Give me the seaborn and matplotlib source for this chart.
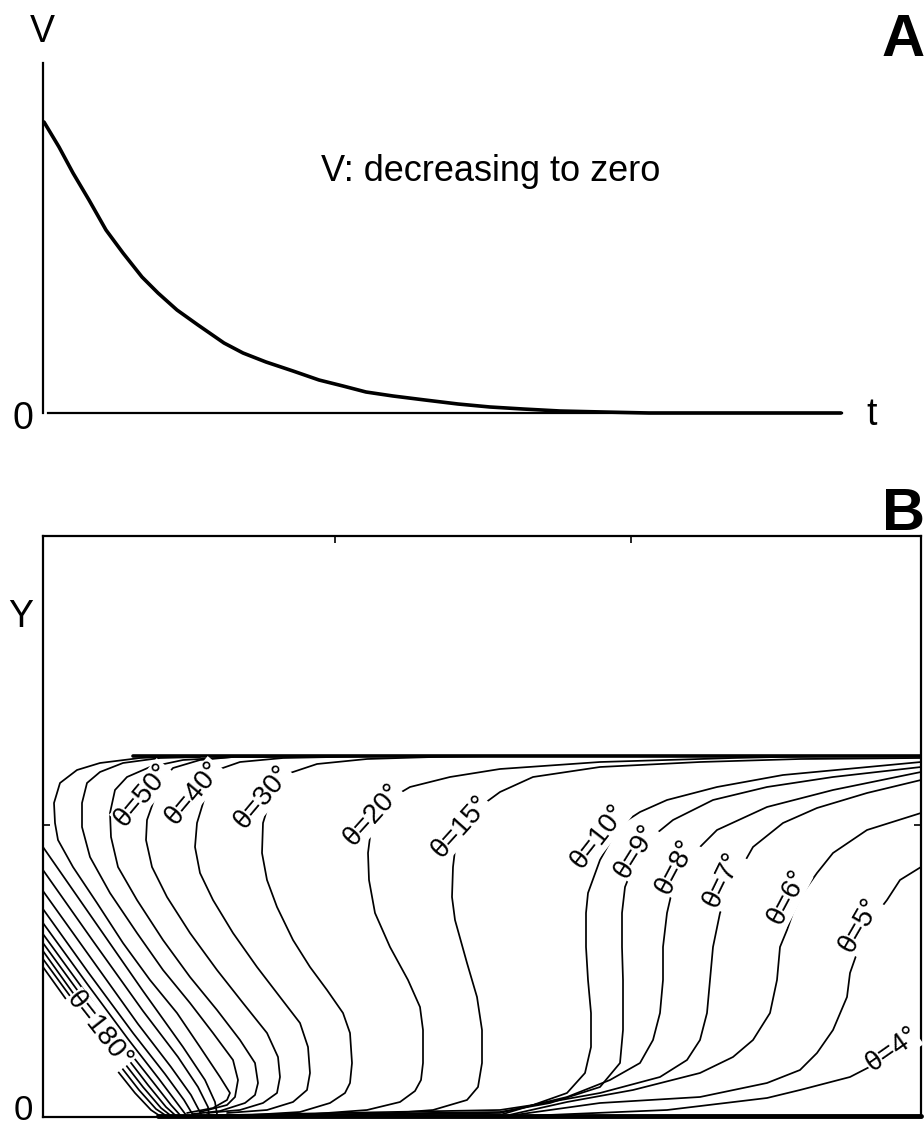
import matplotlib
matplotlib.use("Agg")
import matplotlib.pyplot as plt
import pandas as pd
import seaborn as sns

# ---- panel A: V against t ----
t_vals = [1, 16, 30, 46, 63, 80, 99, 115, 134, 155, 181, 200, 223, 250, 276, 300, 323,
          350, 382, 415, 447, 480, 517, 560, 606, 798]
v_vals = [291, 266, 240, 213, 183, 160, 136, 120, 103, 88, 70, 60, 51, 42, 33, 27, 21,
          17, 13, 9, 6, 4, 2, 1, 0, 0]

# ---- panel B: theta contour lines, (x, Y) points ----
th4 = [(457, 0), (624, 7), (724, 19), (757, 27), (807, 40), (840, 57), (864, 70), (878, 78)]
th5 = [(457, 0), (557, 14), (657, 20), (724, 34), (757, 47), (774, 64), (790, 87), (804, 120),
       (807, 144), (814, 164), (824, 184), (834, 204), (844, 217), (857, 237), (878, 250)]
th6 = [(457, 0), (524, 15), (590, 27), (657, 44), (690, 60), (710, 77), (727, 104), (734, 137),
       (737, 170), (744, 187), (750, 204), (760, 224), (774, 244), (790, 264), (824, 287), (878, 304)]
th7 = [(190, 1), (457, 2), (490, 12), (557, 24), (617, 40), (644, 57), (657, 77), (664, 104),
       (667, 137), (670, 170), (677, 204), (687, 227), (697, 247), (710, 270), (740, 294),
       (774, 309), (824, 324), (878, 337)]
th8 = [(170, 1), (457, 4), (524, 20), (567, 37), (597, 54), (610, 77), (617, 104), (620, 137),
       (620, 170), (624, 204), (630, 230), (644, 250), (654, 267), (674, 287), (724, 310),
       (790, 327), (878, 345)]
th9 = [(150, 1), (457, 5), (507, 14), (557, 30), (577, 54), (580, 87), (580, 137), (579, 170),
       (579, 204), (582, 230), (590, 250), (604, 270), (614, 284), (630, 297), (670, 317),
       (724, 330), (790, 340), (878, 350)]
th10 = [(130, 1), (457, 7), (490, 12), (524, 24), (542, 44), (548, 70), (548, 104), (545, 137),
        (543, 170), (543, 204), (545, 224), (557, 257), (570, 280), (580, 294), (597, 305),
        (624, 317), (674, 330), (740, 342), (878, 355)]
th15 = [(324, 2), (390, 7), (424, 17), (435, 30), (439, 54), (439, 87), (434, 120), (424, 154),
        (412, 197), (409, 220), (410, 250), (412, 267), (417, 284), (430, 300), (442, 314),
        (457, 325), (490, 340), (557, 350), (657, 355), (757, 358), (878, 359)]
th20 = [(257, 2), (324, 7), (357, 15), (372, 26), (378, 37), (380, 54), (380, 87), (377, 110),
        (365, 137), (347, 170), (332, 204), (326, 237), (325, 264), (327, 280), (330, 300),
        (350, 320), (367, 330), (407, 340), (457, 348), (557, 355), (690, 359), (780, 361)]
th30 = [(207, 2), (257, 5), (287, 14), (302, 24), (307, 34), (309, 54), (307, 84), (300, 104),
        (284, 127), (267, 150), (250, 177), (234, 210), (224, 237), (219, 264), (220, 294),
        (230, 327), (247, 344), (274, 353), (324, 358), (390, 360), (450, 361)]
th40 = [(184, 4), (224, 7), (250, 15), (264, 27), (267, 44), (265, 70), (257, 94), (237, 120),
        (214, 150), (190, 184), (170, 217), (157, 244), (152, 270), (154, 294), (164, 327),
        (174, 347), (197, 355), (240, 359), (290, 360), (340, 361)]
th50 = [(164, 4), (197, 7), (220, 14), (234, 24), (237, 40), (235, 60), (224, 84), (200, 114),
        (174, 147), (147, 184), (124, 220), (109, 250), (103, 277), (104, 297), (117, 334),
        (130, 349), (157, 357), (190, 360), (224, 360), (260, 361)]
th60 = [(150, 3), (177, 6), (202, 14), (212, 22), (215, 34), (212, 54), (197, 77), (174, 107),
        (147, 140), (120, 177), (94, 217), (75, 250), (68, 280), (67, 304), (72, 327), (84, 340),
        (107, 350), (140, 357), (190, 360)]
th70 = [(157, 5), (184, 12), (192, 20), (195, 37), (190, 57), (170, 84), (147, 114), (120, 147),
        (94, 184), (67, 224), (47, 260), (39, 290), (39, 314), (44, 334), (57, 345), (80, 354),
        (117, 359), (157, 360)]
th80 = [(144, 4), (170, 9), (184, 17), (187, 24), (177, 40), (157, 70), (134, 104), (107, 137),
        (80, 174), (54, 214), (30, 250), (15, 277), (12, 294), (11, 314), (17, 334), (34, 347),
        (57, 354), (97, 359), (140, 361)]
th90 = [(0, 270), (50, 198), (100, 126), (140, 70), (162, 37), (172, 15), (174, 3)]
th100 = [(0, 247), (50, 176), (100, 106), (135, 60), (155, 30), (165, 10), (166, 2)]
th110 = [(0, 226), (50, 156), (95, 93), (128, 50), (148, 22), (158, 3)]
th120 = [(0, 208), (45, 145), (90, 84), (122, 43), (141, 17), (150, 2)]
th130 = [(0, 194), (45, 132), (85, 78), (116, 38), (134, 14), (143, 2)]
th140 = [(0, 183), (40, 128), (80, 73), (110, 35), (128, 12), (137, 2)]
th150 = [(0, 174), (40, 119), (75, 71), (105, 32), (123, 10), (132, 2)]
th160 = [(0, 166), (40, 110), (72, 66), (100, 30), (118, 9), (127, 2)]
th170 = [(0, 158), (35, 110), (68, 63), (96, 27), (113, 8), (122, 2)]
th180 = [(0, 150), (35, 101), (65, 58), (92, 24), (108, 7), (117, 1)]

# top edge of the region and the bottom where the lines pile up
plateau_x = [90, 878]
plateau_y = [361, 361]
base_x = [115, 878]
base_y = [1.5, 1.5]

label_text = ["θ=50°", "θ=40°", "θ=30°", "θ=20°", "θ=15°", "θ=10°", "θ=9°", "θ=8°",
              "θ=7°", "θ=6°", "θ=5°", "θ=4°", "θ=180°"]
label_x = [100, 151, 220, 330, 418, 556, 593, 633, 680, 745, 817, 849, 56]
label_y = [322, 324, 320, 302, 290, 280, 265, 250, 237, 220, 192, 67, 87]
label_rot = [50, 50, 50, 48, 48, 52, 58, 62, 64, 62, 60, 35, -52]

contour_lines = {
    "4": th4, "5": th5, "6": th6, "7": th7, "8": th8, "9": th9, "10": th10,
    "15": th15, "20": th20, "30": th30, "40": th40, "50": th50, "60": th60,
    "70": th70, "80": th80, "90": th90, "100": th100, "110": th110, "120": th120,
    "130": th130, "140": th140, "150": th150, "160": th160, "170": th170, "180": th180,
}

sns.set_theme(style="white")
plt.rcParams["font.family"] = ["Liberation Sans", "DejaVu Sans"]
plt.rcParams["text.color"] = "black"

W, H = 924, 1129
fig = plt.figure(figsize=(W / 100, H / 100), dpi=100)


def fig_text(px, py, s, **kw):
    fig.text(px / W, 1 - py / H, s, color="black", **kw)


# ---- panel A ----
axA = fig.add_axes([43 / W, (H - 413) / H, (842 - 43) / W, (413 - 63) / H])
dfA = pd.DataFrame({"t": t_vals, "V": v_vals})
sns.lineplot(data=dfA, x="t", y="V", color="black", lw=2.6, ax=axA)
for ln in axA.lines:
    ln.set_clip_on(False)
    ln.set_solid_joinstyle("round")
axA.set_xlim(0, 799)
axA.set_ylim(0, 350)
axA.set_xticks([])
axA.set_yticks([])
axA.set_xlabel("")
axA.set_ylabel("")
for side in ["top", "right"]:
    axA.spines[side].set_visible(False)
for side in ["left", "bottom"]:
    axA.spines[side].set_color("black")
    axA.spines[side].set_linewidth(1.6)
axA.spines["bottom"].set_bounds(5, 799)

fig_text(491, 181, "V: decreasing to zero", fontsize=26, ha="center", va="baseline")
fig_text(42, 42, "V", fontsize=27, ha="center", va="baseline")
fig_text(23, 429, "0", fontsize=27, ha="center", va="baseline")
fig_text(872, 425, "t", fontsize=27, ha="center", va="baseline")
fig_text(903, 56, "A", fontsize=43, fontweight="bold", ha="center", va="baseline")

# ---- panel B ----
axB = fig.add_axes([43 / W, (H - 1117) / H, (921 - 43) / W, (1117 - 536) / H])
rows = []
for name, pts in contour_lines.items():
    for i, (x, y) in enumerate(pts):
        rows.append((name, i, x, y))
dfB = pd.DataFrame(rows, columns=["theta", "order", "x", "Y"])
sns.lineplot(data=dfB, x="x", y="Y", units="theta", estimator=None, sort=False,
             color="black", lw=1.25, ax=axB, legend=False)
axB.plot(plateau_x, plateau_y, color="black", lw=2.6)
axB.plot(base_x, base_y, color="black", lw=3.5, clip_on=False)

for s, x, y, r in zip(label_text, label_x, label_y, label_rot):
    axB.text(x, y, s, fontsize=20, rotation=r, ha="center", va="center",
             rotation_mode="anchor", color="black",
             bbox=dict(facecolor="white", edgecolor="none", pad=0.3))

axB.set_xlim(0, 878)
axB.set_ylim(0, 581)
axB.set_xlabel("")
axB.set_ylabel("")
axB.set_xticks([292, 588])
axB.set_yticks([292])
axB.tick_params(direction="in", length=5, width=1.2, color="black",
                top=True, bottom=False, left=True, right=True,
                labelbottom=False, labelleft=False)
for side in ["left", "bottom", "top", "right"]:
    axB.spines[side].set_color("black")
    axB.spines[side].set_linewidth(1.6)

fig_text(21, 627, "Y", fontsize=27, ha="center", va="baseline")
fig_text(23, 1120, "0", fontsize=25, ha="center", va="baseline")
fig_text(904, 530, "B", fontsize=43, fontweight="bold", ha="center", va="baseline")

fig.savefig("out.png", dpi=100)
